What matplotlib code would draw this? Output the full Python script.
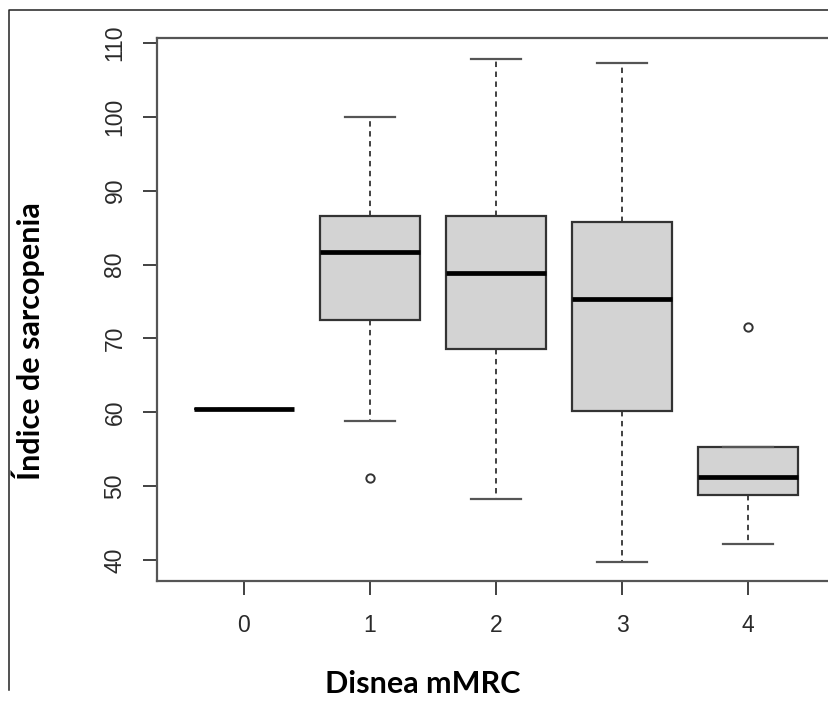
"""Boxplot: sarcopenia index by mMRC dyspnoea grade (R-style base boxplot)."""

import matplotlib
matplotlib.use('Agg')
import matplotlib.pyplot as plt
from matplotlib.lines import Line2D

# ---------------------------------------------------------------------------
# Data

groups = ['0', '1', '2', '3', '4']
q1 = [60.5, 72.5, 68.6, 60.2, 48.8]
medians = [60.5, 81.7, 78.8, 75.4, 51.3]
q3 = [60.5, 86.6, 86.6, 85.8, 55.3]
whisk_lo = [60.5, 58.8, 48.2, 39.8, 42.2]
whisk_hi = [60.5, 100.0, 107.9, 107.3, 55.3]
outliers = [[], [51.1], [], [], [71.6]]

yticks = [40, 50, 60, 70, 80, 90, 100, 110]
ylabel = 'Índice de sarcopenia'
xlabel = 'Disnea mMRC'

# ---------------------------------------------------------------------------
# Figure

fig = plt.figure(figsize=(8.29, 7.06), dpi=100)
W, H = 829, 706
ax = fig.add_axes([157 / W, 1 - 581 / H, (835 - 157) / W, (581 - 37.7) / H])

stats = []
for i, g in enumerate(groups):
    stats.append({'label': g, 'q1': q1[i], 'med': medians[i], 'q3': q3[i],
                  'whislo': whisk_lo[i], 'whishi': whisk_hi[i],
                  'fliers': outliers[i]})

ax.bxp(stats, positions=range(len(groups)), widths=0.79, patch_artist=True,
       boxprops=dict(facecolor='#d3d3d3', edgecolor='#333333', linewidth=1.6),
       medianprops=dict(color='black', linewidth=3.4, solid_capstyle='butt'),
       whiskerprops=dict(color='#333333', linewidth=1.3, linestyle=(0, (3, 2.5))),
       capprops=dict(color='#555555', linewidth=1.6),
       flierprops=dict(marker='o', markersize=6, markerfacecolor='none',
                       markeredgecolor='#333333', markeredgewidth=1.4),
       capwidths=0.4)

ax.set_xlim(-0.69, 4.69)
ax.set_ylim(37.16, 110.72)
ax.set_yticks(yticks)
ax.set_xticks(range(len(groups)))
ax.set_xticklabels(groups)

for s in ax.spines.values():
    s.set_color('#555555')
    s.set_linewidth(1.6)

ax.tick_params(axis='both', length=10, width=1.3, color='#333333',
               labelcolor='#2a2a2a', labelsize=16.5)
ax.tick_params(axis='x', pad=14)
ax.tick_params(axis='y', pad=12, labelrotation=90)
for lab in ax.get_yticklabels():
    lab.set_va('center')
    lab.set_family('Liberation Sans')
for lab in ax.get_xticklabels():
    lab.set_family('Liberation Sans')

# axis titles placed in figure pixels
fig.text(28 / W, 1 - 341 / H, ylabel, rotation=90, ha='center', va='center',
         fontsize=22, fontweight='bold', family='Lato')
fig.text(423 / W, 1 - 684 / H, xlabel, ha='center', va='center',
         fontsize=22, fontweight='bold', family='Lato')

# outer frame (left and top edges only visible)
fig.add_artist(Line2D([9 / W, 9 / W, 1.0], [1 - 690 / H, 1 - 10 / H, 1 - 10 / H],
                      transform=fig.transFigure, color='#222222', linewidth=1.1))

fig.savefig('out.png', dpi=100)
